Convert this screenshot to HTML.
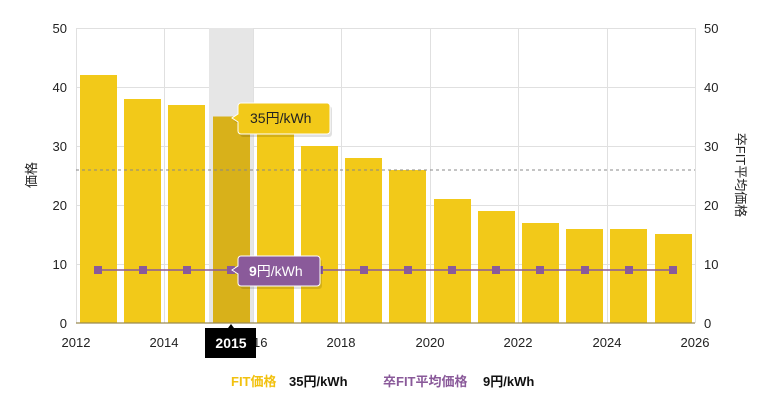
<!DOCTYPE html>
<html><head><meta charset="utf-8"><style>
body{margin:0;background:#fff;width:773px;height:408px;overflow:hidden}
text{font-family:"Liberation Sans","Noto Sans CJK JP",sans-serif}
</style></head><body>
<svg width="773" height="408" viewBox="0 0 773 408">
<g stroke="#e0e0e0" stroke-width="1">
<line x1="76" y1="28.5" x2="695" y2="28.5"/><line x1="76" y1="87.5" x2="695" y2="87.5"/>
<line x1="76" y1="146.5" x2="695" y2="146.5"/><line x1="76" y1="205.5" x2="695" y2="205.5"/>
<line x1="76" y1="264.5" x2="695" y2="264.5"/>
<line x1="76.5" y1="28" x2="76.5" y2="323"/><line x1="164.5" y1="28" x2="164.5" y2="323"/>
<line x1="253.5" y1="28" x2="253.5" y2="323"/><line x1="341.5" y1="28" x2="341.5" y2="323"/>
<line x1="430.5" y1="28" x2="430.5" y2="323"/><line x1="518.5" y1="28" x2="518.5" y2="323"/>
<line x1="607.5" y1="28" x2="607.5" y2="323"/><line x1="695.5" y1="28" x2="695.5" y2="323"/>
</g>
<rect x="209" y="28" width="44" height="295" fill="#e6e6e6"/>
<g fill="#f2c919">
<rect x="80" y="75" width="37" height="248"/>
<rect x="124" y="99" width="37" height="224"/>
<rect x="168" y="105" width="37" height="218"/>
<rect x="213" y="116.5" width="37" height="206.5" fill="#d8b11a"/>
<rect x="257" y="128" width="37" height="195"/>
<rect x="301" y="146" width="37" height="177"/>
<rect x="345" y="158" width="37" height="165"/>
<rect x="389" y="170" width="37" height="153"/>
<rect x="434" y="199" width="37" height="124"/>
<rect x="478" y="211" width="37" height="112"/>
<rect x="522" y="223" width="37" height="100"/>
<rect x="566" y="229" width="37" height="94"/>
<rect x="610" y="229" width="37" height="94"/>
<rect x="655" y="234" width="37" height="89"/>
</g>
<line x1="76" y1="170" x2="695" y2="170" stroke="#888" stroke-dasharray="3,3" stroke-width="1"/>
<line x1="98" y1="270" x2="673" y2="270" stroke="#8a5a9a" stroke-width="1.5"/>
<g fill="#8a5a9a">
<rect x="94" y="266" width="8" height="8"/><rect x="139" y="266" width="8" height="8"/>
<rect x="183" y="266" width="8" height="8"/><rect x="227" y="266" width="8" height="8"/>
<rect x="271" y="266" width="8" height="8"/><rect x="315" y="266" width="8" height="8"/>
<rect x="360" y="266" width="8" height="8"/><rect x="404" y="266" width="8" height="8"/>
<rect x="448" y="266" width="8" height="8"/><rect x="492" y="266" width="8" height="8"/>
<rect x="536" y="266" width="8" height="8"/><rect x="581" y="266" width="8" height="8"/>
<rect x="625" y="266" width="8" height="8"/><rect x="669" y="266" width="8" height="8"/>
</g>
<line x1="76" y1="323" x2="695" y2="323" stroke="#9a8a50" stroke-width="1.2"/>
<g font-size="13" fill="#222" text-anchor="end">
<text x="67" y="33">50</text><text x="67" y="92">40</text><text x="67" y="151">30</text>
<text x="67" y="210">20</text><text x="67" y="269">10</text><text x="67" y="328">0</text>
</g>
<g font-size="13" fill="#222" text-anchor="start">
<text x="704" y="33">50</text><text x="704" y="92">40</text><text x="704" y="151">30</text>
<text x="704" y="210">20</text><text x="704" y="269">10</text><text x="704" y="328">0</text>
</g>
<g font-size="13" fill="#222" text-anchor="middle">
<text x="76" y="347">2012</text><text x="164" y="347">2014</text><text x="253" y="347">2016</text>
<text x="341" y="347">2018</text><text x="430" y="347">2020</text><text x="518" y="347">2022</text>
<text x="607" y="347">2024</text><text x="695" y="347">2026</text>
</g>
<text transform="translate(36,175) rotate(-90)" font-size="13" fill="#222" text-anchor="middle">価格</text>
<text transform="translate(736,175) rotate(90)" font-size="13" fill="#222" text-anchor="middle">卒FIT平均価格</text>
<path d="M205 328 h23 l3 -4 l3 4 h22 v30 h-51 z" fill="#000"/>
<text x="231" y="348" font-size="14" font-weight="bold" fill="#fff" text-anchor="middle">2015</text>
<path d="M243 106 h86 a3 3 0 0 1 3 3 v25 a3 3 0 0 1 -3 3 h-86 a3 3 0 0 1 -3 -3 v-9 l-6 -4 l6 -4 v-8 a3 3 0 0 1 3 -3z" fill="#000" opacity="0.12"/>
<path d="M241 103 h86 a3 3 0 0 1 3 3 v25 a3 3 0 0 1 -3 3 h-86 a3 3 0 0 1 -3 -3 v-9 l-6 -4 l6 -4 v-8 a3 3 0 0 1 3 -3z" fill="#f2c919" stroke="#fff" stroke-width="1"/>
<text x="250" y="123" font-size="14" fill="#222">35円/kWh</text>
<path d="M243 259 h76 a3 3 0 0 1 3 3 v24 a3 3 0 0 1 -3 3 h-76 a3 3 0 0 1 -3 -3 v-9 l-6 -4 l6 -4 v-7 a3 3 0 0 1 3 -3z" fill="#000" opacity="0.12"/>
<path d="M241 256 h76 a3 3 0 0 1 3 3 v24 a3 3 0 0 1 -3 3 h-76 a3 3 0 0 1 -3 -3 v-9 l-6 -4 l6 -4 v-7 a3 3 0 0 1 3 -3z" fill="#8a5a9a" stroke="#fff" stroke-width="1"/>
<text x="249" y="276" font-size="14" font-weight="bold" fill="#fff">9<tspan font-weight="normal">円/kWh</tspan></text>
<g font-size="13" font-weight="bold">
<text x="231" y="386" fill="#f2c10f">FIT価格</text>
<text x="289" y="386" fill="#111">35円/kWh</text>
<text x="383" y="386" fill="#8a5a9a">卒FIT平均価格</text>
<text x="483" y="386" fill="#111">9円/kWh</text>
</g>
</svg>
</body></html>
